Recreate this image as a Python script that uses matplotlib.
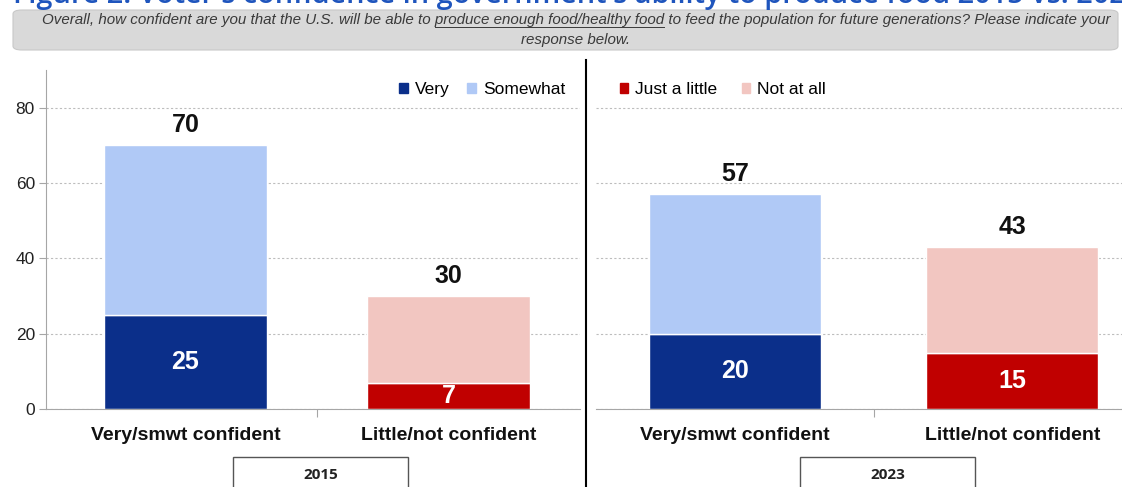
import matplotlib
matplotlib.use("Agg")
import matplotlib.pyplot as plt
from matplotlib.patches import FancyBboxPatch, Rectangle
from matplotlib.lines import Line2D
import numpy as np

plt.rcParams['font.family'] = ['Liberation Sans', 'DejaVu Sans']

categories = ["Very/smwt confident", "Little/not confident"]
years = ["2015", "2023"]
# bottom segment (Very / Just a little) and top segment (Somewhat / Not at all)
bottom_2015 = [25, 7]
top_2015 = [45, 23]
total_2015 = [70, 30]
bottom_2023 = [20, 15]
top_2023 = [37, 28]
total_2023 = [57, 43]
yticks = [0, 20, 40, 60, 80]

C_VERY = "#0b2f8a"
C_SOME = "#b0c9f6"
C_LITTLE = "#c00000"
C_NOTATALL = "#f2c6c1"

title_text = "Figure 2: Voter's confidence in government's ability to produce food 2015 vs. 2023"
question_pre = "Overall, how confident are you that the U.S. will be able to "
question_ul = "produce enough food/healthy food"
question_post = " to feed the population for future generations? Please indicate your"
question_line2 = "response below."

W, H = 1122, 487
fig = plt.figure(figsize=(W / 100, H / 100), dpi=100)
fig.patch.set_facecolor("white")

def fx(px):
    return px / W

def fy(py):
    return 1 - py / H

# Cropped title at top (the reference shows only its lower part)
fig.text(fx(13), fy(2.5), title_text, fontsize=20.8, color="#1f55bd", fontweight="semibold",
         ha="left", va="baseline", family=["Open Sans", "DejaVu Sans"])

# Gray question box
box = FancyBboxPatch((fx(13), fy(50)), fx(1105), (40 / H),
                     boxstyle="round,pad=0,rounding_size=0.008",
                     transform=fig.transFigure, facecolor="#d9d9d9",
                     edgecolor="#c8c8c8", linewidth=0.8, zorder=1)
fig.patches.append(box)

qfont = dict(fontsize=9.2, style="italic", color="#3a3a3a",
             family=["Liberation Sans", "DejaVu Sans"])
line1 = question_pre + question_ul + question_post
# fit line 1 to the reference width
fig.canvas.draw()
r = fig.canvas.get_renderer()
tmp = fig.text(0, 0, line1, **qfont)
w0 = tmp.get_window_extent(r).width
tmp.remove()
qfont["fontsize"] = qfont["fontsize"] * 1068.0 / w0

t1 = fig.text(fx(576), fy(24), line1, ha="center", va="baseline", zorder=3, **qfont)
fig.text(fx(576), fy(44), question_line2, ha="center", va="baseline", zorder=3, **qfont)

# underline part
fig.canvas.draw()
r = fig.canvas.get_renderer()
bb_full = t1.get_window_extent(r)
tmp = fig.text(0, 0, question_pre, **qfont)
w_pre = tmp.get_window_extent(r).width
tmp.remove()
tmp = fig.text(0, 0, question_ul, **qfont)
w_ul = tmp.get_window_extent(r).width
tmp.remove()
x0 = bb_full.x0 + w_pre
x1 = x0 + w_ul
yline = fy(27)
fig.add_artist(Line2D([x0 / W, x1 / W], [yline, yline], transform=fig.transFigure,
                      color="#3a3a3a", linewidth=0.7, zorder=3))

ax_bottom = fy(409)
ax_h = (409 - 70) / H

def setup_axis(ax, show_y):
    ax.set_ylim(0, 90)
    ax.set_yticks(yticks)
    ax.grid(axis="y", linestyle=(0, (2, 2)), color="#bdbdbd", linewidth=0.8)
    ax.set_axisbelow(True)
    for s in ["top", "right"]:
        ax.spines[s].set_visible(False)
    ax.spines["bottom"].set_color("#a6a6a6")
    ax.spines["left"].set_color("#a6a6a6")
    ax.set_xticks([0.5])
    ax.set_xticklabels([""])
    ax.tick_params(axis="x", length=6, color="#a6a6a6")
    ax.tick_params(axis="y", length=5, color="#a6a6a6", labelsize=12.5, labelcolor="#222222", pad=3)
    if not show_y:
        ax.spines["left"].set_visible(False)
        ax.tick_params(axis="y", length=0, labelleft=False)
    ax.set_xlim(-0.5, 1.5)

def draw_panel(ax, bottoms, tops, totals, c_bottom_colors, c_top_colors):
    x = np.arange(len(categories))
    ax.bar(x, bottoms, width=0.62, color=c_bottom_colors, edgecolor="white", linewidth=1.0, zorder=2)
    ax.bar(x, tops, bottom=bottoms, width=0.62, color=c_top_colors, edgecolor="white", linewidth=1.0, zorder=2)
    for i in range(len(x)):
        ax.text(x[i], bottoms[i] / 2, str(bottoms[i]), ha="center", va="center",
                color="white", fontsize=18, fontweight="bold", zorder=4)
        ax.annotate(str(totals[i]), (x[i], totals[i]), xytext=(0, 6), textcoords="offset points",
                    ha="center", va="bottom", fontsize=18, fontweight="bold", color="#111111")
    for i, c in enumerate(categories):
        ax.annotate(c, (x[i], 0), xycoords=("data", "data"), xytext=(0, -13), textcoords="offset points",
                    ha="center", va="top", fontsize=14, fontweight="bold", color="#111111",
                    annotation_clip=False)

# Left panel
axL = fig.add_axes([fx(46), ax_bottom, fx(580 - 46), ax_h])
setup_axis(axL, True)
axL.set_xlim(-0.53, 1.5)
draw_panel(axL, bottom_2015, top_2015, total_2015, [C_VERY, C_LITTLE], [C_SOME, C_NOTATALL])

# Right panel
axR = fig.add_axes([fx(596), ax_bottom, fx(1151 - 596), ax_h])
setup_axis(axR, False)
draw_panel(axR, bottom_2023, top_2023, total_2023, [C_VERY, C_LITTLE], [C_SOME, C_NOTATALL])

# Legends
hL = [Rectangle((0, 0), 1, 1, color=C_VERY), Rectangle((0, 0), 1, 1, color=C_SOME)]
axL.legend(hL, ["Very", "Somewhat"], loc="upper right", bbox_to_anchor=(0.985, 0.985),
           ncol=2, frameon=False, fontsize=12.5, handlelength=0.5, handleheight=0.5,
           handletextpad=0.4, columnspacing=1.0, borderaxespad=0)
hR = [Rectangle((0, 0), 1, 1, color=C_LITTLE), Rectangle((0, 0), 1, 1, color=C_NOTATALL)]
axR.legend(hR, ["Just a little", "Not at all"], loc="upper left", bbox_to_anchor=(0.03, 0.985),
           ncol=2, frameon=False, fontsize=12.5, handlelength=0.5, handleheight=0.5,
           handletextpad=0.4, columnspacing=1.4, borderaxespad=0)

# Divider line
fig.add_artist(Line2D([fx(586), fx(586)], [fy(60), 0], transform=fig.transFigure,
                      color="black", linewidth=1.5))

# Year boxes
for (xl, xr), yr in zip([(233, 408), (800, 975)], years):
    rect = Rectangle((fx(xl), fy(492)), fx(xr - xl), (492 - 457) / H, transform=fig.transFigure,
                     facecolor="white", edgecolor="#555555", linewidth=1.0)
    fig.patches.append(rect)
    fig.text(fx((xl + xr) / 2), fy(475), yr, ha="center", va="center", fontsize=11,
             fontweight="bold", color="#222222", family=["Open Sans", "DejaVu Sans"])

fig.savefig("out.png", dpi=100, facecolor="white")
